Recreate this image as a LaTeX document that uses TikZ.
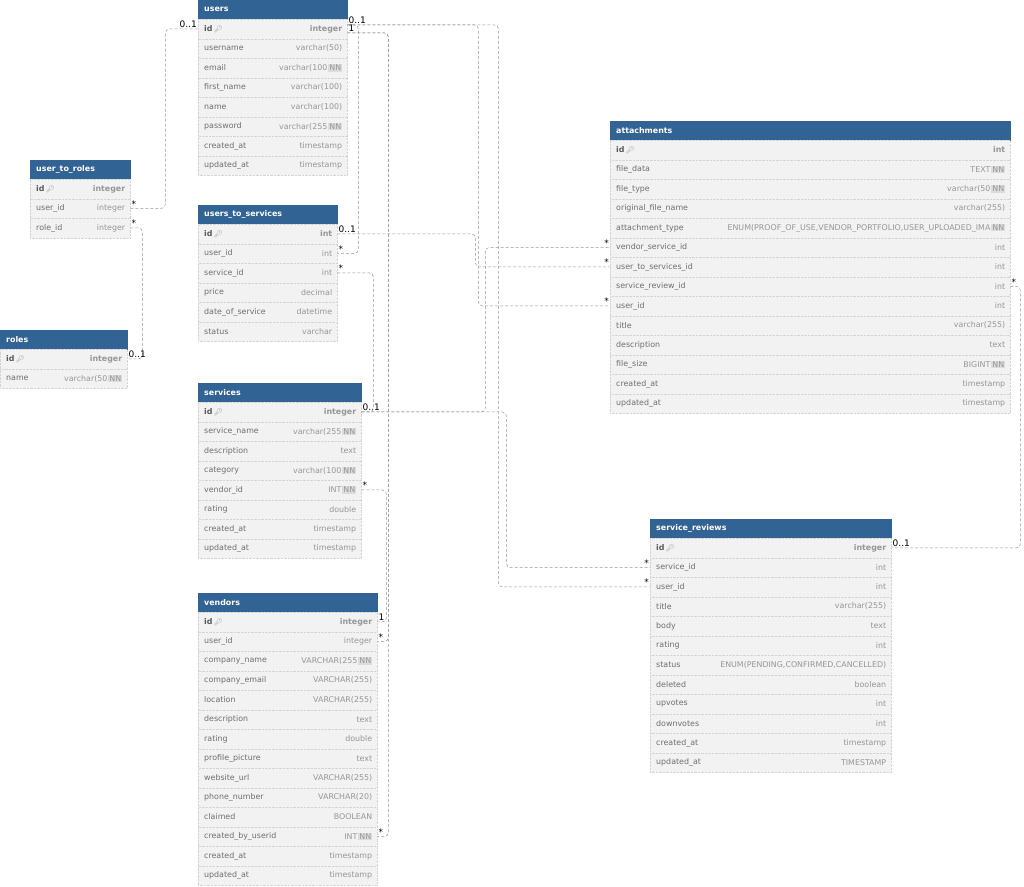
\documentclass[tikz,border=0pt]{standalone}
\usepackage{fontspec}
\setmainfont{DejaVu Sans}
\newfontfamily\emojifont{Noto Emoji}
\usetikzlibrary{positioning}

\definecolor{hdrblue}{RGB}{49,99,149}
\definecolor{rowgray}{RGB}{242,242,242}
\definecolor{linegray}{RGB}{212,212,212}
\definecolor{namegray}{RGB}{110,110,110}
\definecolor{typegray}{RGB}{150,150,150}
\definecolor{idgray}{RGB}{90,90,90}
\definecolor{nnfill}{RGB}{220,220,220}
\definecolor{fkgray}{RGB}{150,150,150}

\newcommand\nnbox{\kern1pt{\setlength\fboxsep{1pt}\colorbox{nnfill}{\textcolor{typegray}{NN}}}}
\newcommand\keyicon{\,{\emojifont\fontsize{7}{7}\selectfont\textcolor{typegray}{🔑}}}

\tikzset{
  tblhead/.style={fill=hdrblue, draw=hdrblue, minimum height=19pt, inner sep=0pt},
  tbltitle/.style={text=white, font=\bfseries\fontsize{7.9}{9}\selectfont, inner sep=0pt, xshift=6pt},
  tblrow/.style={fill=rowgray, draw=linegray, densely dotted, minimum height=19.5pt, inner sep=0pt},
  fname/.style={text=namegray, font=\fontsize{7.9}{9}\selectfont, inner sep=0pt, xshift=6pt},
  ftype/.style={text=typegray, font=\fontsize{7.9}{9}\selectfont, inner sep=0pt, xshift=-5pt},
  fk/.style={draw=fkgray, densely dashed, line width=0.5pt, rounded corners=4pt},
  card/.style={text=black, font=\fontsize{9}{9}\selectfont, inner sep=1pt}
}

% table: name, title, x, top, width, rows (field/type/nn)
\newcommand\erdtable[6]{%
  \node[tblhead, minimum width=#5pt, anchor=north west] (#1) at (#3,#4) {};
  \node[tbltitle, anchor=west] (#1-title) at (#1.west) {#2};
  \foreach \n/\t/\k [count=\i] in {#6} {
    \node[tblrow, minimum width=#5pt, anchor=north west] (#1-\i) at ({#3},{#4-0.5+19.5*\i}) {};
    \node[fname, anchor=west] (#1-\i-n) at (#1-\i.west)
      {\ifnum\i=1 \bfseries\color{idgray}\fi\n\ifnum\i=1 \keyicon\fi};
    \node[ftype, anchor=east] (#1-\i-t) at (#1-\i.east)
      {\ifnum\i=1 \bfseries\fi\t\ifnum\k=1 \nnbox\fi};
  }%
}

\begin{document}
\begin{tikzpicture}[x=1pt, y=-1pt]
\useasboundingbox (0,0) rectangle (1024,886);

\erdtable{users}{users}{198}{0}{149}{id/integer/0, username/varchar(50)/0, email/varchar(100/1,
  first\_name/varchar(100)/0, name/varchar(100)/0, password/varchar(255/1,
  created\_at/timestamp/0, updated\_at/timestamp/0}
\erdtable{utr}{user\_to\_roles}{30}{160}{100}{id/integer/0, user\_id/integer/0, role\_id/integer/0}
\erdtable{roles}{roles}{0}{330}{127}{id/integer/0, name/varchar(50/1}
\erdtable{uts}{users\_to\_services}{198}{205}{139}{id/int/0, user\_id/int/0, service\_id/int/0,
  price/decimal/0, date\_of\_service/datetime/0, status/varchar/0}
\erdtable{services}{services}{198}{383}{163}{id/integer/0, service\_name/varchar(255/1,
  description/text/0, category/varchar(100/1, vendor\_id/INT/1, rating/double/0,
  created\_at/timestamp/0, updated\_at/timestamp/0}
\erdtable{vendors}{vendors}{198}{593}{179}{id/integer/0, user\_id/integer/0,
  company\_name/VARCHAR(255/1, company\_email/VARCHAR(255)/0, location/VARCHAR(255)/0,
  description/text/0, rating/double/0, profile\_picture/text/0, website\_url/VARCHAR(255)/0,
  phone\_number/VARCHAR(20)/0, claimed/BOOLEAN/0, created\_by\_userid/INT/1,
  created\_at/timestamp/0, updated\_at/timestamp/0}
\erdtable{att}{attachments}{610}{121}{400}{id/int/0, file\_data/TEXT/1, file\_type/varchar(50/1,
  original\_file\_name/varchar(255)/0,
  attachment\_type/{ENUM(PROOF\_OF\_USE,VENDOR\_PORTFOLIO,USER\_UPLOADED\_IMA}/1,
  vendor\_service\_id/int/0, user\_to\_services\_id/int/0, service\_review\_id/int/0,
  user\_id/int/0, title/varchar(255)/0, description/text/0, file\_size/BIGINT/1,
  created\_at/timestamp/0, updated\_at/timestamp/0}
\erdtable{sr}{service\_reviews}{650}{519}{241}{id/integer/0, service\_id/int/0, user\_id/int/0,
  title/varchar(255)/0, body/text/0, rating/int/0,
  status/{ENUM(PENDING,CONFIRMED,CANCELLED)}/0, deleted/boolean/0, upvotes/int/0,
  downvotes/int/0, created\_at/timestamp/0, updated\_at/TIMESTAMP/0}

% relations
\draw[fk] (utr-2.east) node[card, anchor=south west] (m1) {*} -- ([xshift=35pt]utr-2.east)
  |- (users-1.west) node[card, anchor=south east] (m2) {0..1};
\draw[fk] (utr-3.east) node[card, anchor=south west] (m3) {*} -- ([xshift=12pt]utr-3.east)
  |- (roles-1.east) node[card, anchor=south west] (m4) {0..1};
\draw[fk] ([yshift=4pt]users-1.east) node[card, anchor=south west] (m5) {0..1} -- ++(131,0)
  |- (att-9.west) node[card, anchor=south east] (m6) {*};
\draw[fk] ([yshift=4pt]users-1.east) -- ++(151,0) |- (sr-3.west) node[card, anchor=south east] (m7) {*};
\draw[fk] ([yshift=4pt]users-1.east) -- ++(11,0) |- (uts-2.east) node[card, anchor=south west] (m8) {*};
\draw[fk] ([yshift=-4pt]users-1.east) node[card, anchor=south west] (m9) {1}
  -| ([xshift=11pt]vendors-2.east) -- (vendors-2.east) node[card, anchor=south west] (m10) {*};
\draw[fk] ([yshift=-4pt]users-1.east) -| ([xshift=11pt]vendors-12.east) -- (vendors-12.east)
  node[card, anchor=south west] (m11) {*};
\draw[fk] (services-5.east) node[card, anchor=south west] (m12) {*} -| ([xshift=9pt]vendors-1.east)
  -- (vendors-1.east) node[card, anchor=south west] (m13) {1};
\draw[fk] (services-1.east) node[card, anchor=south west] (m14) {0..1} -- ++(145,0)
  |- (sr-2.west) node[card, anchor=south east] (m15) {*};
\draw[fk] (services-1.east) -- ++(124,0) |- (att-6.west) node[card, anchor=south east] (m16) {*};
\draw[fk] (uts-3.east) node[card, anchor=south west] (m17) {*} -- ++(36,0) |- (services-1.east);
\draw[fk] (uts-1.east) node[card, anchor=south west] (m18) {0..1} -- ++(138,0)
  |- (att-7.west) node[card, anchor=south east] (m19) {*};
\draw[fk] (att-8.east) node[card, anchor=south west] (m20) {*} -- ++(10,0)
  |- (sr-1.east) node[card, anchor=south west] (m21) {0..1};
\end{tikzpicture}
\end{document}
